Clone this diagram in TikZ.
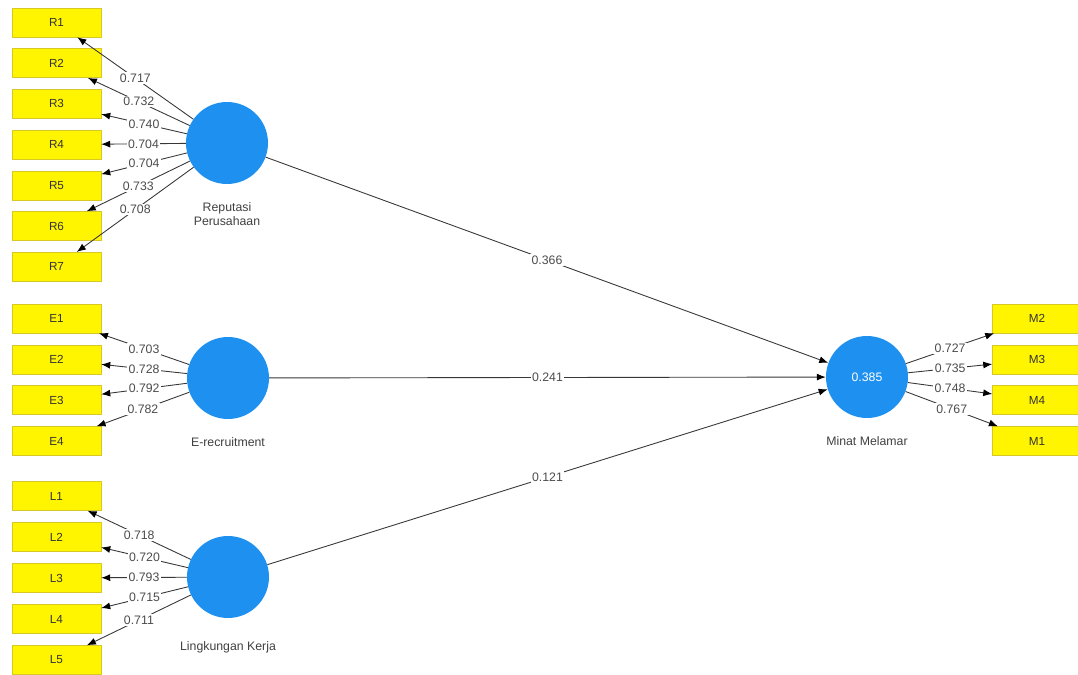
\documentclass[tikz,border=0pt]{standalone}
\usepackage{fontspec}
\setmainfont{Liberation Sans}
\usetikzlibrary{arrows.meta,positioning}
\definecolor{lvblue}{RGB}{30,144,240}
\definecolor{indyellow}{RGB}{255,245,0}
\definecolor{indedge}{RGB}{215,200,40}
\definecolor{linegray}{RGB}{55,55,55}
\tikzset{
  indicator/.style={draw=indedge, fill=indyellow, minimum width=2.67cm, minimum height=0.87cm,
    inner sep=0pt, text=black!80, font=\fontsize{10}{12}\selectfont},
  latent/.style={circle, fill=lvblue, minimum size=2.46cm, inner sep=0pt, text=white,
    font=\fontsize{10.5}{12}\selectfont},
  lvname/.style={align=center, inner sep=1pt, text=black!75, font=\fontsize{10.5}{12.5}\selectfont},
  loading/.style={draw=linegray, line width=0.75pt, -{Latex[length=2.7mm,width=2.1mm,color=black]}},
  weight/.style={midway, fill=white, inner sep=1.2pt, text=black!70, font=\fontsize{10.5}{12}\selectfont}
}
\begin{document}
\begin{tikzpicture}[x=0.03cm,y=-0.03cm]
\useasboundingbox (0,0) rectangle (1078,675);
% latent variables
\node[latent] (rep) at (227,143) {};
\node[latent] (erec) at (228,378) {};
\node[latent] (lk) at (228,577) {};
\node[latent] (minat) at (867,377) {0.385};
\node[lvname, below=0.5cm of rep] {Reputasi\\Perusahaan};
\node[lvname, below=0.5cm of erec] {E-recruitment};
\node[lvname, below=0.65cm of lk] {Lingkungan Kerja};
\node[lvname, below=0.52cm of minat] {Minat Melamar};
% indicators
\foreach \i/\y in {1/22.5,2/63.2,3/103.9,4/144.6,5/185.3,6/226,7/266.7}
  \node[indicator] (R\i) at (56.5,\y) {R\i};
\foreach \i/\y in {1/318.5,2/359.5,3/400,4/441}
  \node[indicator] (E\i) at (56.5,\y) {E\i};
\foreach \i/\y in {1/496,2/537,3/578,4/619,5/660}
  \node[indicator] (L\i) at (56.5,\y) {L\i};
\foreach \i/\y in {2/318.5,3/359.5,4/400,1/441}
  \node[indicator] (M\i) at (1037,\y) {M\i};
% outer loadings
\foreach \i/\w in {1/0.717,2/0.732,3/0.740,4/0.704,5/0.704,6/0.733,7/0.708}
  \draw[loading] (rep) -- node[weight]{\w} (R\i);
\foreach \i/\w in {1/0.703,2/0.728,3/0.792,4/0.782}
  \draw[loading] (erec) -- node[weight]{\w} (E\i);
\foreach \i/\w in {1/0.718,2/0.720,3/0.793,4/0.715,5/0.711}
  \draw[loading] (lk) -- node[weight]{\w} (L\i);
\foreach \i/\w in {2/0.727,3/0.735,4/0.748,1/0.767}
  \draw[loading] (minat) -- node[weight]{\w} (M\i);
% path coefficients
\draw[loading] (rep) -- node[weight]{0.366} (minat);
\draw[loading] (erec) -- node[weight]{0.241} (minat);
\draw[loading] (lk) -- node[weight]{0.121} (minat);
\end{tikzpicture}
\end{document}
